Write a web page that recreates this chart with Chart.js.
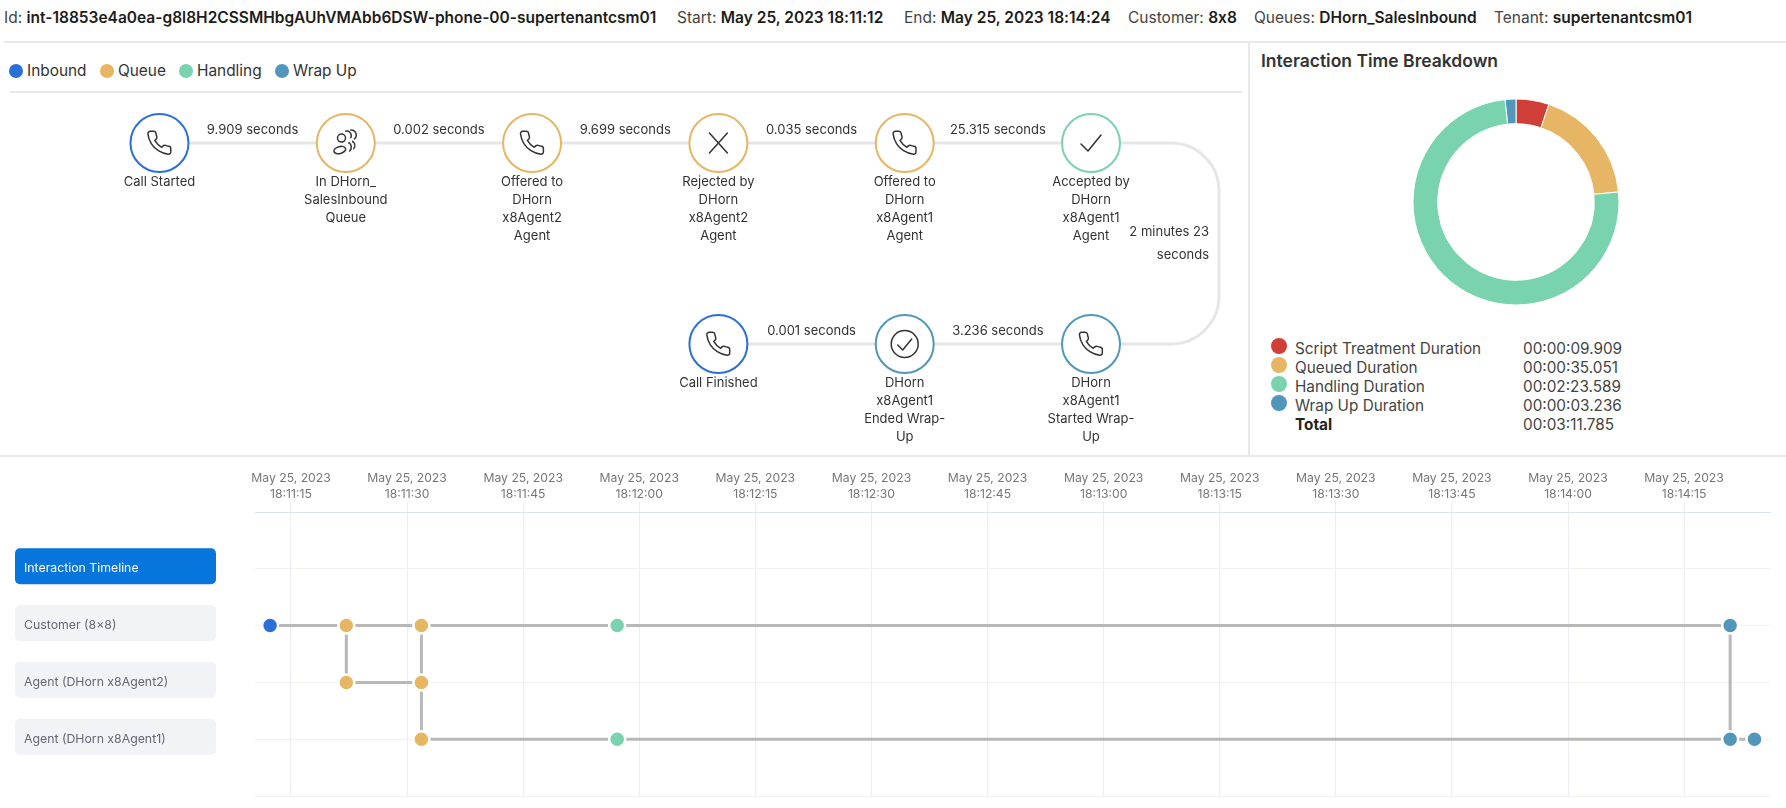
<!DOCTYPE html>
<html>
<head>
<meta charset="utf-8">
<title>Interaction</title>
<script src="https://cdn.jsdelivr.net/npm/chart.js@4/dist/chart.umd.min.js"></script>
<style>
  html, body { margin: 0; padding: 0; background: #fff; }
  body { position: relative; width: 1786px; height: 808px; overflow: hidden; font-family: Inter, sans-serif; color: #333; }
  canvas { position: absolute; }
  .abs { position: absolute; white-space: nowrap; }
  .head { top: 9px; font-size: 15.5px; line-height: 18px; color: #444; font-feature-settings: 'calt' 0; }
  .head b { font-weight: 600; color: #1c1c1c; }
  .rule { position: absolute; background: #e9e9e9; }
  .legend { top: 61px; font-size: 15.4px; line-height: 19px; color: #333; }
  .dot { position: absolute; border-radius: 50%; }
  .row { font-size: 15.3px; line-height: 19px; color: #444; }
</style>
</head>
<body>
<div id="header"></div>
<div class="rule" style="left:4px;top:41px;width:1782px;height:2px"></div>
<div class="rule" style="left:10px;top:91px;width:1232px;height:2px"></div>
<div class="rule" style="left:1248px;top:42px;width:2px;height:414px"></div>
<div class="rule" style="left:0;top:455px;width:1786px;height:2px"></div>
<div id="legend"></div>
<div class="abs" style="left:1261px;top:50px;font-size:17.5px;line-height:22px;font-weight:600;color:#333">Interaction Time Breakdown</div>
<div id="breakdown"></div>
<canvas id="flow" width="1249" height="363" style="left:0;top:93px"></canvas>
<canvas id="donut" width="300" height="300" style="left:1366px;top:52px"></canvas>
<canvas id="timeline" width="1786" height="351" style="left:0;top:457px"></canvas>

<script>
var headerNames  = ['Id:', 'Start:', 'End:', 'Customer:', 'Queues:', 'Tenant:'];
var headerValues = ['int-18853e4a0ea-g8l8H2CSSMHbgAUhVMAbb6DSW-phone-00-supertenantcsm01', 'May 25, 2023 18:11:12', 'May 25, 2023 18:14:24', '8x8', 'DHorn_SalesInbound', 'supertenantcsm01'];
var headerLefts  = [4, 677, 904, 1128, 1254, 1494];

var legendNames = ['Inbound', 'Queue', 'Handling', 'Wrap Up'];
var legendLefts = [27, 118, 197, 293];

var inboundColor  = '#2a70d8';
var queueColor    = '#e6b665';
var handlingColor = '#78d3ae';
var wrapColor     = '#5097bb';
var scriptColor   = '#cf3f38';
var legendColors  = [inboundColor, queueColor, handlingColor, wrapColor];

// donut
var breakdownNames   = ['Script Treatment Duration', 'Queued Duration', 'Handling Duration', 'Wrap Up Duration'];
var breakdownSeconds = [9.909, 35.051, 143.589, 3.236];
var breakdownLabels  = ['00:00:09.909', '00:00:35.051', '00:02:23.589', '00:00:03.236'];
var breakdownColors  = [scriptColor, queueColor, handlingColor, wrapColor];
var totalLabel       = '00:03:11.785';

// flow diagram
var nodeColumns = [0, 1, 2, 3, 4, 5, 5, 4, 3];
var nodeRows    = [0, 0, 0, 0, 0, 0, 1, 1, 1];
var nodeColors  = [inboundColor, queueColor, queueColor, queueColor, queueColor, handlingColor, wrapColor, wrapColor, inboundColor];
var nodeIcons   = ['phone', 'queue', 'phone', 'cross', 'phone', 'check', 'phone', 'done', 'phone'];
var nodeLabels  = [
  ['Call Started'],
  ['In DHorn_', 'SalesInbound', 'Queue'],
  ['Offered to', 'DHorn', 'x8Agent2', 'Agent'],
  ['Rejected by', 'DHorn', 'x8Agent2', 'Agent'],
  ['Offered to', 'DHorn', 'x8Agent1', 'Agent'],
  ['Accepted by', 'DHorn', 'x8Agent1', 'Agent'],
  ['DHorn', 'x8Agent1', 'Started Wrap-', 'Up'],
  ['DHorn', 'x8Agent1', 'Ended Wrap-', 'Up'],
  ['Call Finished']
];
var gapLabels = [['9.909 seconds'], ['0.002 seconds'], ['9.699 seconds'], ['0.035 seconds'], ['25.315 seconds'], ['2 minutes 23', 'seconds'], ['3.236 seconds'], ['0.001 seconds']];
var pathColumns = [0, 5.687, 5.687, 3];
var pathRows    = [0, 0, 1, 1];

// timeline, x is seconds after 18:11:00
var rowLabels = ['', 'Interaction Timeline', 'Customer (8×8)', 'Agent (DHorn x8Agent2)', 'Agent (DHorn x8Agent1)', ''];
var tickDate  = 'May 25, 2023';
var tickTimes = ['18:11:15', '18:11:30', '18:11:45', '18:12:00', '18:12:15', '18:12:30', '18:12:45', '18:13:00', '18:13:15', '18:13:30', '18:13:45', '18:14:00', '18:14:15'];

var customerSeconds = [12.3, 22.15, 31.85, 57.15, 200.95];
var customerColors  = [inboundColor, queueColor, queueColor, handlingColor, wrapColor];
var agent2Seconds   = [22.15, 31.85];
var agent2Colors    = [queueColor, queueColor];
var agent1Seconds   = [31.85, 57.15, 200.95, 204.1];
var agent1Colors    = [queueColor, handlingColor, wrapColor, wrapColor];

var linkSeconds = [22.15, 31.85, 31.85, 200.95];
var linkFrom    = [2, 2, 3, 2];
var linkTo      = [3, 3, 4, 4];

function build_header() {
  var html = '';
  for (var i = 0; i < headerNames.length; i++) {
    html += '<div class="abs head" style="left:' + headerLefts[i] + 'px">' + headerNames[i] + ' <b>' + headerValues[i] + '</b></div>';
  }
  document.getElementById('header').innerHTML = html;
}

function build_legend() {
  var html = '';
  for (var i = 0; i < legendNames.length; i++) {
    html += '<div class="dot" style="left:' + (legendLefts[i] - 18) + 'px;top:64px;width:14px;height:14px;background:' + legendColors[i] + '"></div>';
    html += '<div class="abs legend" style="left:' + legendLefts[i] + 'px">' + legendNames[i] + '</div>';
  }
  document.getElementById('legend').innerHTML = html;
}

function build_breakdown() {
  var html = '';
  for (var i = 0; i < breakdownNames.length; i++) {
    var top = 339 + i * 19;
    html += '<div class="dot" style="left:1271px;top:' + (top - 1) + 'px;width:16px;height:16px;background:' + breakdownColors[i] + '"></div>';
    html += '<div class="abs row" style="left:1295px;top:' + top + 'px">' + breakdownNames[i] + '</div>';
    html += '<div class="abs row" style="left:1523px;top:' + top + 'px">' + breakdownLabels[i] + '</div>';
  }
  html += '<div class="abs row" style="left:1295px;top:415px;font-weight:700;color:#222">Total</div>';
  html += '<div class="abs row" style="left:1523px;top:415px">' + totalLabel + '</div>';
  document.getElementById('breakdown').innerHTML = html;
}

var phonePath = new Path2D('M22 16.92v3a2 2 0 0 1-2.18 2 19.79 19.79 0 0 1-8.63-3.07 19.5 19.5 0 0 1-6-6 19.79 19.79 0 0 1-3.07-8.67A2 2 0 0 1 4.11 2h3a2 2 0 0 1 2 1.72 12.84 12.84 0 0 0 .7 2.81 2 2 0 0 1-.45 2.11L8.09 9.91a16 16 0 0 0 6 6l1.27-1.27a2 2 0 0 1 2.11-.45 12.84 12.84 0 0 0 2.81.7A2 2 0 0 1 22 16.92z');

function draw_icon(ctx, icon, x, y) {
  ctx.save();
  ctx.translate(x, y);
  ctx.strokeStyle = '#333';
  ctx.lineWidth = 1.5;
  ctx.lineJoin = 'round';
  ctx.lineCap = 'round';
  ctx.beginPath();
  if (icon === 'phone') {
    ctx.translate(-14, -14);
    ctx.scale(1.15, 1.15);
    ctx.lineWidth = 1.3;
    ctx.stroke(phonePath);
  } else if (icon === 'cross') {
    ctx.moveTo(-9, -10); ctx.lineTo(9, 10);
    ctx.moveTo(9, -10); ctx.lineTo(-9, 10);
    ctx.stroke();
  } else if (icon === 'check') {
    ctx.moveTo(-10, 1); ctx.lineTo(-3, 8); ctx.lineTo(10, -8);
    ctx.stroke();
  } else if (icon === 'done') {
    ctx.arc(0, 0, 13.5, 0, Math.PI * 2);
    ctx.moveTo(-7, 1); ctx.lineTo(-2, 6); ctx.lineTo(7, -5);
    ctx.stroke();
  } else if (icon === 'queue') {
    ctx.ellipse(-6, 7, 6, 3.5, -0.25, 0, Math.PI * 2);
    ctx.moveTo(-0.3, -5);
    ctx.arc(-4.3, -5, 4, 0, Math.PI * 2);
    ctx.moveTo(0, -12);
    ctx.arc(1, -7.5, 4.5, -1.6, 0.5);
    ctx.moveTo(5, -13);
    ctx.arc(5.5, -8, 5, -1.5, 0.9);
    ctx.moveTo(3, 0);
    ctx.arc(0, 4, 5.5, -0.9, 0.8);
    ctx.moveTo(7, -1);
    ctx.arc(3.5, 2.5, 5.5, -0.9, 0.6);
    ctx.stroke();
  }
  ctx.restore();
}

var flowPlugin = {
  id: 'flow_decor',
  beforeDatasetsDraw: function (chart) {
    var ctx = chart.ctx, sx = chart.scales.x, sy = chart.scales.y;
    ctx.save();
    ctx.strokeStyle = '#e6e6e6';
    ctx.lineWidth = 3;
    ctx.beginPath();
    ctx.moveTo(sx.getPixelForValue(pathColumns[0]), sy.getPixelForValue(pathRows[0]));
    for (var i = 1; i < pathColumns.length - 1; i++) {
      ctx.arcTo(sx.getPixelForValue(pathColumns[i]), sy.getPixelForValue(pathRows[i]),
        sx.getPixelForValue(pathColumns[i + 1]), sy.getPixelForValue(pathRows[i + 1]), 48);
    }
    ctx.lineTo(sx.getPixelForValue(pathColumns[i]), sy.getPixelForValue(pathRows[i]));
    ctx.stroke();
    ctx.restore();
  },
  afterDatasetsDraw: function (chart) {
    var ctx = chart.ctx, sx = chart.scales.x, sy = chart.scales.y;
    ctx.save();
    ctx.font = '13px Inter';
    ctx.fillStyle = '#333';
    ctx.textAlign = 'center';
    ctx.textBaseline = 'middle';
    nodeColumns.forEach(function (col, i) {
      var x = sx.getPixelForValue(col), y = sy.getPixelForValue(nodeRows[i]);
      draw_icon(ctx, nodeIcons[i], x, y);
      nodeLabels[i].forEach(function (line, j) {
        ctx.fillText(line, x, y + 39.5 + j * 18);
      });
    });
    gapLabels.forEach(function (lines, i) {
      var x = (sx.getPixelForValue(nodeColumns[i]) + sx.getPixelForValue(nodeColumns[i + 1])) / 2;
      var y = sy.getPixelForValue(nodeRows[i]);
      if (lines.length > 1) {
        ctx.textAlign = 'right';
        x += 118;
        y = (y + sy.getPixelForValue(nodeRows[i + 1])) / 2 - 11;
        lines.forEach(function (line, j) {
          ctx.fillText(line, x, y + j * 23);
        });
        ctx.textAlign = 'center';
      } else {
        ctx.fillText(lines[0], x, y - 13);
      }
    });
    ctx.restore();
  }
};

function flow_chart() {
  new Chart(document.getElementById('flow'), {
    type: 'scatter',
    plugins: [flowPlugin],
    data: {
      datasets: [{
        data: nodeColumns.map(function (col, i) { return { x: col, y: nodeRows[i] }; }),
        backgroundColor: '#fff',
        borderColor: nodeColors,
        borderWidth: 2,
        pointRadius: 29,
        clip: false
      }]
    },
    options: {
      responsive: false,
      animation: false,
      events: [],
      layout: { autoPadding: false },
      plugins: { legend: { display: false }, tooltip: { enabled: false } },
      scales: {
        x: { display: false, min: -0.856, max: 5.848 },
        y: { display: false, reverse: true, min: -0.249, max: 1.557 }
      }
    }
  });
}

function donut_chart() {
  new Chart(document.getElementById('donut'), {
    type: 'doughnut',
    data: {
      labels: breakdownNames,
      datasets: [{
        data: breakdownSeconds,
        backgroundColor: breakdownColors,
        borderColor: '#fff',
        borderWidth: 1,
        radius: 103,
        cutout: '76%'
      }]
    },
    options: {
      responsive: false,
      animation: false,
      events: [],
      plugins: { legend: { display: false }, tooltip: { enabled: false } }
    }
  });
}

function row_points(seconds, row) {
  return seconds.map(function (s) { return { x: s, y: rowLabels[row] }; });
}

function track_dataset(seconds, row, colors) {
  return {
    data: row_points(seconds, row),
    showLine: true,
    borderColor: '#b8b8b8',
    borderWidth: 3,
    pointBackgroundColor: colors,
    pointBorderColor: '#fff',
    pointBorderWidth: 2.5,
    pointRadius: 8,
    order: 1
  };
}

function link_dataset(i) {
  return {
    data: [{ x: linkSeconds[i], y: rowLabels[linkFrom[i]] }, { x: linkSeconds[i], y: rowLabels[linkTo[i]] }],
    showLine: true,
    borderColor: '#b8b8b8',
    borderWidth: 3,
    pointRadius: 0,
    order: 2
  };
}

var pillPlugin = {
  id: 'row_pills',
  beforeDraw: function (chart) {
    var ctx = chart.ctx, sy = chart.scales.y;
    ctx.save();
    rowLabels.forEach(function (label, i) {
      if (!label) return;
      ctx.fillStyle = i === 1 ? '#0675dc' : '#f2f3f7';
      ctx.beginPath();
      ctx.roundRect(15, sy.getPixelForValue(i) - 20.5, 201, 36, 5);
      ctx.fill();
    });
    ctx.restore();
  }
};

function timeline_chart() {
  var datasets = [
    track_dataset(customerSeconds, 2, customerColors),
    track_dataset(agent2Seconds, 3, agent2Colors),
    track_dataset(agent1Seconds, 4, agent1Colors)
  ];
  linkSeconds.forEach(function (s, i) { datasets.push(link_dataset(i)); });

  new Chart(document.getElementById('timeline'), {
    type: 'scatter',
    plugins: [pillPlugin],
    data: { datasets: datasets },
    options: {
      responsive: false,
      animation: false,
      events: [],
      layout: { autoPadding: false, padding: { left: 24, right: 16, bottom: 12 } },
      plugins: { legend: { display: false }, tooltip: { enabled: false } },
      scales: {
        x: {
          type: 'linear',
          position: 'top',
          min: 10.35,
          max: 206.1,
          afterFit: function (scale) { scale.height = 55; },
          border: { color: '#dbe3f3' },
          grid: { color: '#eceef3', tickLength: 10 },
          ticks: {
            stepSize: 15,
            includeBounds: false,
            autoSkip: false,
            maxRotation: 0,
            padding: 0,
            color: '#777',
            font: { family: 'Inter', size: 12.2, lineHeight: 1.3 },
            callback: function (value, i) { return [tickDate, tickTimes[i]]; }
          }
        },
        y: {
          type: 'category',
          labels: rowLabels,
          afterFit: function (scale) { scale.width = 231; },
          border: { display: false },
          grid: { color: '#f1f1f1', drawTicks: false },
          ticks: {
            autoSkip: false,
            crossAlign: 'far',
            color: function (c) { return c.index === 1 ? '#fff' : '#667'; },
            font: { family: 'Inter', size: 12.3 }
          }
        }
      }
    }
  });
}

build_header();
build_legend();
build_breakdown();
flow_chart();
donut_chart();
timeline_chart();
</script>
</body>
</html>
